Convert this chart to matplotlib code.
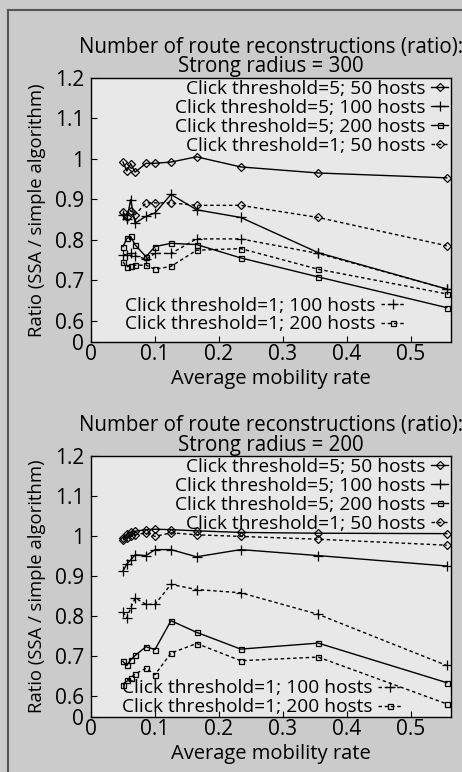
import matplotlib
matplotlib.use("Agg")
import matplotlib.pyplot as plt
from matplotlib.lines import Line2D

plt.rcParams['font.family'] = ['Open Sans', 'DejaVu Sans']

# ---------------- data ----------------
mobility = [0.050, 0.056, 0.062, 0.069, 0.086, 0.100, 0.125, 0.165, 0.234, 0.355, 0.556]

labels = ["Click threshold=5; 50 hosts",
          "Click threshold=5; 100 hosts",
          "Click threshold=5; 200 hosts",
          "Click threshold=1; 50 hosts",
          "Click threshold=1; 100 hosts",
          "Click threshold=1; 200 hosts"]

# Strong radius = 300
r300_ct5_50 = [0.992, 0.970, 0.988, 0.967, 0.989, 0.989, 0.992, 1.005, 0.980, 0.965, 0.953]
r300_ct5_100 = [0.862, 0.850, 0.899, 0.841, 0.858, 0.866, 0.912, 0.874, 0.855, 0.768, 0.678]
r300_ct5_200 = [0.783, 0.803, 0.808, 0.787, 0.758, 0.783, 0.791, 0.788, 0.755, 0.708, 0.632]
r300_ct1_50 = [0.868, 0.856, 0.872, 0.862, 0.891, 0.891, 0.891, 0.885, 0.885, 0.855, 0.785]
r300_ct1_100 = [0.763, 0.763, 0.766, 0.760, 0.752, 0.766, 0.766, 0.802, 0.802, 0.766, 0.678]
r300_ct1_200 = [0.745, 0.733, 0.736, 0.737, 0.737, 0.727, 0.734, 0.774, 0.778, 0.727, 0.666]

# Strong radius = 200
r200_ct5_50 = [0.995, 1.005, 1.010, 1.012, 1.016, 1.017, 1.016, 1.013, 1.009, 1.007, 1.006]
r200_ct5_100 = [0.912, 0.930, 0.940, 0.953, 0.951, 0.966, 0.966, 0.948, 0.966, 0.951, 0.925]
r200_ct5_200 = [0.686, 0.676, 0.690, 0.701, 0.723, 0.716, 0.788, 0.759, 0.717, 0.732, 0.633]
r200_ct1_50 = [0.990, 0.995, 1.000, 1.003, 1.008, 0.999, 1.008, 1.003, 0.999, 0.992, 0.977]
r200_ct1_100 = [0.810, 0.795, 0.820, 0.845, 0.829, 0.829, 0.879, 0.866, 0.858, 0.804, 0.676]
r200_ct1_200 = [0.628, 0.640, 0.645, 0.655, 0.669, 0.653, 0.707, 0.731, 0.688, 0.697, 0.580]

titles = ["Number of route reconstructions (ratio):\nStrong radius = 300",
          "Number of route reconstructions (ratio):\nStrong radius = 200"]
ytick_vals = [0.6, 0.7, 0.8, 0.9, 1.0, 1.1, 1.2]
ytick_labels = ["0", "0.6", "0.7", "0.8", "0.9", "1", "1.1", "1.2"]
xtick_vals = [0, 0.1, 0.2, 0.3, 0.4, 0.5]
xtick_labels = ["0", "0.1", "0.2", "0.3", "0.4", "0.5"]

# ---------------- styles ----------------
dash = (0, (2.5, 2))
styles = [
    dict(ls='-', marker='D', ms=3.6, mfc='none'),
    dict(ls='-', marker='+', ms=7, mfc='none'),
    dict(ls='-', marker='s', ms=3.6, mfc='none'),
    dict(ls=dash, marker='D', ms=3.6, mfc='none'),
    dict(ls=dash, marker='+', ms=7, mfc='none'),
    dict(ls=dash, marker='s', ms=3.6, mfc='none'),
]

fig = plt.figure(figsize=(4.62, 7.72), dpi=100)
fig.patch.set_facecolor('#cbcbcb')
# scan frame lines (left and top)
fig.add_artist(Line2D([0.018, 0.018], [0.0, 0.987], transform=fig.transFigure,
                      color='#555555', lw=1.5))
fig.add_artist(Line2D([0.018, 1.0], [0.987, 0.987], transform=fig.transFigure,
                      color='#555555', lw=1.5))

ybottom = 0.547
xright = 0.5625
axes_rects = [[0.197, 0.557, 0.779, 0.342], [0.197, 0.0712, 0.779, 0.338]]
datasets = [
    [r300_ct5_50, r300_ct5_100, r300_ct5_200, r300_ct1_50, r300_ct1_100, r300_ct1_200],
    [r200_ct5_50, r200_ct5_100, r200_ct5_200, r200_ct1_50, r200_ct1_100, r200_ct1_200],
]
lower_anchor = [(0.88, 0.025), (0.872, -0.005)]

LFS = 13.8
for rect, series, title, anc in zip(axes_rects, datasets, titles, lower_anchor):
    ax = fig.add_axes(rect)
    ax.set_facecolor('#e8e8e8')
    handles = []
    for vals, st, lab in zip(series, styles, labels):
        h, = ax.plot(mobility, vals, color='black', lw=1.0, mew=0.9, label=lab, **st)
        handles.append(h)
    ax.set_xlim(0, xright)
    ax.set_ylim(ybottom, 1.2)
    ax.set_xticks(xtick_vals)
    ax.set_xticklabels(xtick_labels)
    ax.set_yticks([ybottom] + ytick_vals)
    ax.set_yticklabels(ytick_labels)
    ax.tick_params(direction='in', length=4, width=0.8, labelsize=15, top=False, right=False)
    ax.tick_params(axis='y', pad=5)
    ax.tick_params(axis='x', pad=1.5)
    for sp in ax.spines.values():
        sp.set_linewidth(1.0)
    ax.set_title(title, fontsize=14.8, linespacing=0.9, pad=4, x=0.5)
    ax.set_xlabel("Average mobility rate", fontsize=14.5, labelpad=2.5)
    ax.set_ylabel("Ratio (SSA / simple algorithm)", fontsize=13.3, labelpad=6)

    leg1 = ax.legend(handles[:4], labels[:4], loc='upper right', bbox_to_anchor=(0.998, 1.0),
                     frameon=False, markerfirst=False, fontsize=LFS, handlelength=0.9,
                     handletextpad=0.3, labelspacing=0.05, borderaxespad=0.0, borderpad=0.1)
    ax.add_artist(leg1)
    ax.legend(handles[4:], labels[4:], loc='lower right', bbox_to_anchor=anc,
              frameon=False, markerfirst=False, fontsize=LFS, handlelength=1.3,
              handletextpad=0.3, labelspacing=0.05, borderaxespad=0.0, borderpad=0.1)

fig.savefig("out.png", dpi=100, facecolor=fig.get_facecolor())
